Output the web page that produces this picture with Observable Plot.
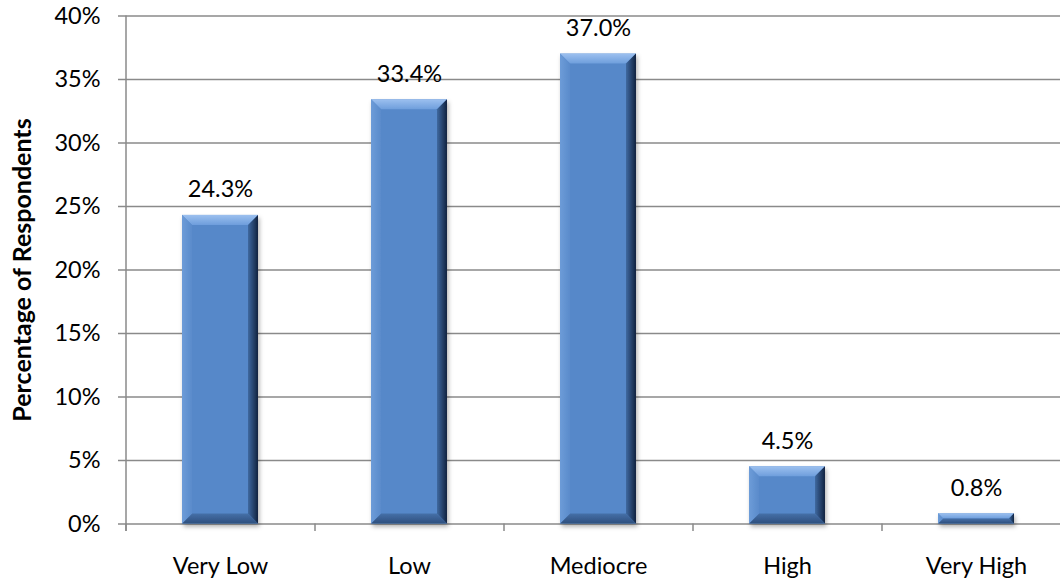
<!DOCTYPE html>
<html>
<head>
<meta charset="utf-8">
<script src="https://cdn.jsdelivr.net/npm/d3@7"></script>
<script src="https://cdn.jsdelivr.net/npm/@observablehq/plot@0.6"></script>
<style>
  html, body { margin: 0; padding: 0; background: #fff; }
</style>
</head>
<body>
<div id="chart"></div>
<script>
const categories = ["Very Low", "Low", "Mediocre", "High", "Very High"];
const values = [24.3, 33.4, 37.0, 4.5, 0.8];
const yTicks = [0, 5, 10, 15, 20, 25, 30, 35, 40];
const yLabel = "Percentage of Respondents";

const data = categories.map((c, i) => ({category: c, value: values[i]}));

const xRange = [125, 1070];
const step = (xRange[1] - xRange[0]) / categories.length;
const gridColor = "#8a8a8a";

const chart = Plot.plot({
  width: 1060,
  height: 581,
  marginLeft: 125,
  marginRight: 0,
  marginTop: 15.5,
  marginBottom: 57.5,
  style: {fontFamily: "Lato, 'Open Sans', sans-serif", fontSize: "23.5px", color: "#000", background: "#fff"},
  x: {domain: categories, range: xRange, paddingInner: 0.6, paddingOuter: 0.3, align: 0.5},
  y: {domain: [0, 40], range: [523.5, 15.5]},
  marks: [
    Plot.ruleY(yTicks, {y: d => d, stroke: gridColor, strokeWidth: 1.5}),
    Plot.ruleX(categories, {x: d => d, y1: -0.6, y2: 0, dx: -step / 2, stroke: gridColor, strokeWidth: 1.5}),
    Plot.ruleX([categories[0]], {x: d => d, y1: -0.6, y2: 40, dx: -step / 2, stroke: gridColor, strokeWidth: 1.5}),
    Plot.barY(data, {x: "category", y: "value", fill: "#5688c9", className: "bevel-bars"}),
    Plot.text(data, {x: "category", y: "value", text: d => d.value.toFixed(1) + "%", lineAnchor: "bottom", dy: -18, fill: "#000"}),
    Plot.axisY(yTicks, {tickSize: 7, tickPadding: 18, tickFormat: d => d + "%", label: null, stroke: gridColor, strokeWidth: 1.5}),
    Plot.axisX({tickSize: 0, tickPadding: 33, label: null}),
    Plot.text([yLabel], {frameAnchor: "left", textAnchor: "middle", rotate: -90, dx: -95, lineAnchor: "bottom", fontWeight: "bold", fontSize: 25, fill: "#000", text: d => d})
  ]
});

// Bevel decoration on the rendered bars (coordinates come from Plot's scales)
const NS = "http://www.w3.org/2000/svg";
const defs = document.createElementNS(NS, "defs");
defs.innerHTML = `
  <linearGradient id="bvTop" x1="0" y1="0" x2="0" y2="1">
    <stop offset="0" stop-color="#9cc0ef"/><stop offset="1" stop-color="#6e9edc"/>
  </linearGradient>
  <linearGradient id="bvBottom" x1="0" y1="0" x2="0" y2="1">
    <stop offset="0" stop-color="#4670a8"/><stop offset="1" stop-color="#2d4f7e"/>
  </linearGradient>
  <linearGradient id="bvRight" x1="0" y1="0" x2="1" y2="0">
    <stop offset="0" stop-color="#3f69a0"/><stop offset="1" stop-color="#112240"/>
  </linearGradient>
  <linearGradient id="bvLeft" x1="0" y1="0" x2="1" y2="0">
    <stop offset="0" stop-color="#6d9cd8"/><stop offset="1" stop-color="#5a8bcb"/>
  </linearGradient>
  <filter id="bvShadow" x="-10%" y="-10%" width="125%" height="130%">
    <feDropShadow dx="1.5" dy="3" stdDeviation="2" flood-color="#000" flood-opacity="0.3"/>
  </filter>`;
chart.insertBefore(defs, chart.firstChild);

const g = chart.querySelector("g.bevel-bars") || chart.querySelector(".bevel-bars");
if (g) {
  g.setAttribute("filter", "url(#bvShadow)");
  g.querySelectorAll("rect").forEach(r => {
    const x = +r.getAttribute("x"), y = +r.getAttribute("y");
    const w = +r.getAttribute("width"), h = +r.getAttribute("height");
    const b = Math.min(10, h / 2, w / 2);
    const polys = [
      [`${x},${y} ${x + w},${y} ${x + w - b},${y + b} ${x + b},${y + b}`, "url(#bvTop)"],
      [`${x},${y + h} ${x + w},${y + h} ${x + w - b},${y + h - b} ${x + b},${y + h - b}`, "url(#bvBottom)"],
      [`${x},${y} ${x + b},${y + b} ${x + b},${y + h - b} ${x},${y + h}`, "url(#bvLeft)"],
      [`${x + w},${y} ${x + w - b},${y + b} ${x + w - b},${y + h - b} ${x + w},${y + h}`, "url(#bvRight)"]
    ];
    for (const [pts, fill] of polys) {
      const p = document.createElementNS(NS, "polygon");
      p.setAttribute("points", pts);
      p.setAttribute("fill", fill);
      g.appendChild(p);
    }
  });
}

document.getElementById("chart").appendChild(chart);
</script>
</body>
</html>
